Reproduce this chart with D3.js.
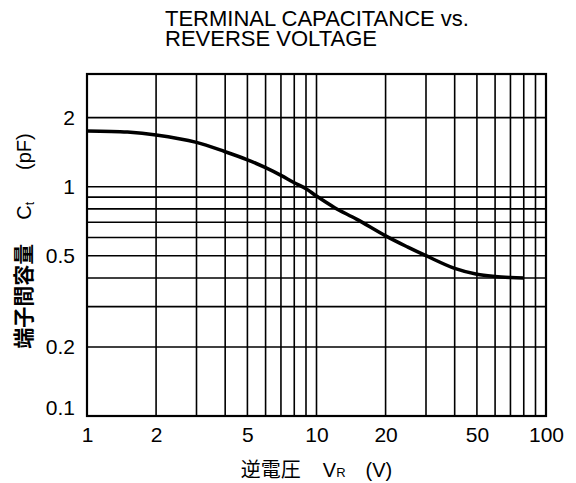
<!DOCTYPE html>
<html><head><meta charset="utf-8">
<script src="https://cdn.jsdelivr.net/npm/d3@7"></script>
<style>
html,body{margin:0;padding:0;background:#fff;}
svg{display:block;}
text{fill:#000;}
</style></head>
<body>
<svg id="chart" width="576" height="483"></svg>
<script>
// ---- data ----
const voltage = [1, 1.5, 2, 3, 4, 5, 6, 7, 8, 9, 10, 12, 15, 20, 25, 30, 40, 50, 60, 70, 80];
const capacitance = [1.75, 1.73, 1.68, 1.56, 1.42, 1.31, 1.21, 1.12, 1.04, 0.98, 0.91, 0.81, 0.72, 0.61, 0.545, 0.5, 0.44, 0.415, 0.406, 0.402, 0.40];
const xTickLabels = [1, 2, 5, 10, 20, 50, 100];
const yTickLabels = [0.1, 0.2, 0.5, 1, 2];
const xGrid = [2,3,4,5,6,7,8,9,10,20,30,40,50,60,70,80,90];
const yGrid = [0.2,0.3,0.4,0.5,0.6,0.7,0.8,0.9,1,2];
const titleLines = ["TERMINAL CAPACITANCE vs.", "REVERSE VOLTAGE"];

const svg = d3.select("#chart");
const L = 87, R = 546, T = 74, B = 416;
const x = d3.scaleLog().domain([1, 100]).range([L, R]);
const y = d3.scaleLog().domain([0.1, 3.1]).range([B, T]);
const latin = "'Liberation Sans', Arial, Helvetica, sans-serif";
const cjk = "'Noto Sans CJK JP', 'Noto Sans CJK SC', sans-serif";

// title
svg.append("g").selectAll("text").data(titleLines).join("text")
  .attr("x", 165).attr("y", (d,i) => 26 + i*20)
  .attr("font-family", latin).attr("font-size", 22)
  .text(d => d);

// grid
const g = svg.append("g");
g.selectAll("line.vx").data(xGrid).join("line")
  .attr("x1", d => x(d)).attr("x2", d => x(d)).attr("y1", T).attr("y2", B)
  .attr("stroke", "#000").attr("stroke-width", 1.6);
g.selectAll("line.hy").data(yGrid).join("line")
  .attr("y1", d => y(d)).attr("y2", d => y(d)).attr("x1", L).attr("x2", R)
  .attr("stroke", "#000").attr("stroke-width", 1.6);
g.append("rect").attr("x", L).attr("y", T).attr("width", R-L).attr("height", B-T)
  .attr("fill", "none").attr("stroke", "#000").attr("stroke-width", 2.2);

// axes (labels only)
const xAxis = d3.axisBottom(x).tickValues(xTickLabels).tickFormat(d3.format("d")).tickSize(0).tickPadding(11);
svg.append("g").attr("transform", `translate(0,${B})`).call(xAxis)
  .call(s => s.select(".domain").remove())
  .selectAll("text").attr("font-family", latin).attr("font-size", 21).attr("fill", "#000");
const yAxis = d3.axisLeft(y).tickValues(yTickLabels).tickFormat(d => String(d)).tickSize(0).tickPadding(12);
svg.append("g").attr("transform", `translate(${L},0)`).call(yAxis)
  .call(s => s.select(".domain").remove())
  .selectAll("text").attr("font-family", latin).attr("font-size", 21).attr("fill", "#000")
  .attr("dy", d => d === 0.1 ? "-0.05em" : "0.32em");

// curve
const pts = voltage.map((v,i) => [v, capacitance[i]]);
svg.append("path").datum(pts)
  .attr("d", d3.line().x(d => x(d[0])).y(d => y(d[1])).curve(d3.curveCatmullRom.alpha(0.5)))
  .attr("fill", "none").attr("stroke", "#000").attr("stroke-width", 3.5);

// x axis title
const xt = svg.append("text").attr("x", (L+R)/2).attr("y", 477).attr("text-anchor", "middle")
  .attr("font-size", 20);
xt.append("tspan").attr("font-family", cjk).text("逆電圧");
xt.append("tspan").attr("font-family", latin).attr("dx", 22).text("V");
xt.append("tspan").attr("font-family", latin).attr("font-size", 13).text("R");
xt.append("tspan").attr("font-family", latin).attr("dx", 20).text("(V)");

// y axis title
const yt = svg.append("text").attr("transform", `translate(31,241) rotate(-90)`).attr("text-anchor", "middle")
  .attr("font-size", 20);
yt.append("tspan").attr("font-family", cjk).attr("font-weight", 700).attr("font-size", 21).text("端子間容量");
yt.append("tspan").attr("font-family", latin).attr("dx", 24).text("C");
yt.append("tspan").attr("font-family", latin).attr("font-size", 12).attr("dy", 3).text("t");
yt.append("tspan").attr("font-family", latin).attr("dx", 32).attr("dy", -3).text("(pF)");
</script>
</body></html>
